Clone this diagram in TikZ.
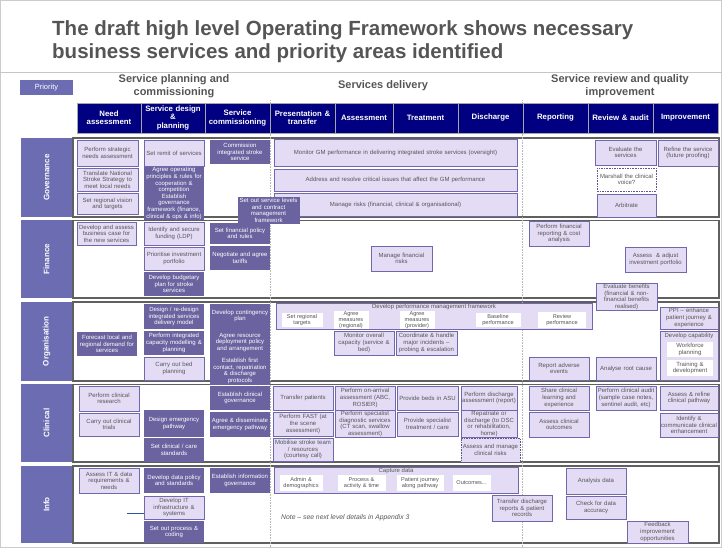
\documentclass[tikz,border=0pt]{standalone}
\usepackage{fontspec}
\setmainfont{Liberation Sans}
\usepackage{xcolor}
\usetikzlibrary{positioning, calc}

\definecolor{lav}{HTML}{E4DCF5}
\definecolor{lavline}{HTML}{7068AA}
\definecolor{plum}{HTML}{6A63A0}
\definecolor{navy}{HTML}{000080}
\definecolor{inkgray}{HTML}{555555}
\definecolor{framegray}{HTML}{606060}
\definecolor{prio}{HTML}{6C6CB2}
\definecolor{linkblue}{HTML}{2A55A5}

\begin{document}
\begin{tikzpicture}[
  x=1pt, y=-1pt,
  every node/.style={font=\fontsize{6}{6.6}\selectfont, inner sep=1pt, align=center},
  box/.style={text width=58, minimum height=24, line width=0.8pt},
  lt/.style={box, fill=lav, draw=lavline, text=inkgray},
  dk/.style={box, fill=plum, text=white},
  dsh/.style={box, draw=lavline!85!black, line width=0.9pt,
              dash pattern=on 1.6pt off 1pt, text=inkgray},
  wt/.style={fill=white, text=inkgray, inner sep=0.5pt, minimum height=14,
             font=\fontsize{5.6}{5.8}\selectfont},
  barlbl/.style={text=inkgray, inner sep=0.5pt},
  hdr/.style={fill=navy, draw=gray!70, line width=0.8pt, text=white, minimum height=30,
              font=\fontsize{7.8}{8.2}\selectfont\bfseries},
  grphd/.style={text=inkgray, font=\fontsize{11}{13.5}\selectfont\bfseries},
  rowlbl/.style={fill=prio, text=white, rotate=90, minimum height=51,
                 font=\fontsize{8}{9}\selectfont\bfseries},
  band/.style={draw=framegray, line width=1.3pt, fill=white},
  divider/.style={densely dotted, draw=gray!55, line width=0.6pt},
]
\useasboundingbox (0,0) rectangle (722,548);
\draw[gray!40, line width=0.6pt] (0.5,0.5) rectangle (721.5,547.5);

% --- column x-coordinates (box centres) ---
\def\xA{108}
\def\xB{174}
\def\xC{240}
\def\xD{303.5}
\def\xE{365}
\def\xF{427.5}
\def\xG{489}
\def\xH{559}
\def\xI{626}
\def\xJ{689}

% --- title ---
\node[anchor=north west, align=left, text=inkgray, inner sep=0pt,
      font=\fontsize{20.5}{23}\selectfont\bfseries] (title) at (52,20)
  {The draft high level Operating Framework shows necessary\\business services and priority areas identified};
\draw[gray!45, line width=1pt] (0,73) -- (722,73);

% --- group headings ---
\node[grphd, fill=white] (gplan) at (174,86) {Service planning and\\commissioning};
\node[grphd] (gdeliv) at (383,86) {Services delivery};
\node[grphd] (greview) at (620,86) {Service review and quality\\improvement};
\node[fill=prio, text=white, minimum width=53, minimum height=15,
      font=\fontsize{7.5}{8}\selectfont] (prio) at (46.5,87.5) {Priority};

% --- row bands ---
\draw[band] (73,138) rectangle (719,217);
\draw[band] (73,220.5) rectangle (719,298);
\draw[band] (73,302) rectangle (719,381);
\draw[band] (73,384.5) rectangle (719,462);
\draw[band] (73,466) rectangle (719,543);

% --- group dividers ---
\draw[divider] (270.5,100) -- (270.5,548);
\draw[divider] (522,100) -- (522,548);

% --- column headers ---
\node[hdr, text width=62] (hNeed) at (109,118) {Need\\assessment};
\node[hdr, text width=62] (hDes) at (173,118) {Service design\\\&\\planning};
\node[hdr, text width=63] (hCom) at (237.5,118) {Service\\commissioning};
\node[hdr, text width=63] (hPre) at (302.5,118) {Presentation \&\\transfer};
\node[hdr, text width=56] (hAss) at (364,118) {Assessment};
\node[hdr, text width=63] (hTre) at (425.5,118) {Treatment};
\node[hdr, text width=63] (hDis) at (490.5,118) {Discharge};
\node[hdr, text width=63] (hRep) at (555.5,118) {Reporting};
\node[hdr, text width=63] (hRev) at (620.5,118) {Review \& audit};
\node[hdr, text width=63] (hImp) at (685.5,118) {Improvement};

% --- row names ---
\node[rowlbl, minimum width=79] (lGov) at (46.5,177.5) {Governance};
\node[rowlbl, minimum width=78] (lFin) at (46.5,259) {Finance};
\node[rowlbl, minimum width=79] (lOrg) at (46.5,341.5) {Organisation};
\node[rowlbl, minimum width=78] (lCli) at (46.5,423) {Clinical};
\node[rowlbl, minimum width=77] (lInf) at (46.5,504.5) {Info};

% =========================================================
% Governance
% =========================================================
\node[lt, text width=59, minimum height=26] (gA1) at (107.5,153) {Perform strategic\\needs assessment};
\node[lt, text width=59, minimum height=23] (gA2) at (107.5,179.5) {Translate National\\Stroke Strategy to\\meet local needs};
\node[lt, text width=59, minimum height=21] (gA3) at (107.5,204) {Set regional vision\\and targets};
\node[lt, minimum height=26] (gB1) at (\xB,153) {Set remit of services};
\node[dk, minimum height=49] (gB2) at (\xB,193.5) {Agree operating\\principles \& rules for\\cooperation \&\\competition\\Establish\\governance\\framework (finance,\\clinical \& ops \& info)};
\node[dk] (gC1) at (\xC,152) {Commission\\integrated stroke\\service};
\node[lt, text width=241, minimum height=27] (gD1) at (395.5,152.5) {Monitor GM performance in delivering integrated stroke services (oversight)};
\node[lt, text width=241, minimum height=22] (gD2) at (395.5,180) {Address and resolve critical issues that affect the GM performance};
\node[lt, text width=241, minimum height=23] (gD3) at (395.5,204.5) {Manage risks (financial, clinical \& organisational)};
\node[dk, text width=60, minimum height=27] (gC2) at (268.5,210.5) {Set out service levels\\and contract\\management\\framework};
\node[lt, text width=59, minimum height=25] (gI1) at (625.5,152.5) {Evaluate the\\services};
\node[dsh, text width=57, minimum height=23] (gI2) at (626.5,179.5) {Marshall the clinical\\voice?};
\node[lt, text width=57, minimum height=23] (gI3) at (626.5,205.5) {Arbitrate};
\node[lt, minimum height=26] (gJ1) at (688,153) {Refine the service\\(future proofing)};

% =========================================================
% Finance
% =========================================================
\node[lt, text width=57, minimum height=23] (fA1) at (106.5,233.5) {Develop and assess\\business case for\\the new services};
\node[lt, minimum height=23] (fB1) at (\xB,233.5) {Identify and secure\\funding (LDP)};
\node[lt, minimum height=23] (fB2) at (\xB,258.5) {Prioritise investment\\portfolio};
\node[dk] (fB3) at (\xB,284) {Develop budgetary\\plan for stroke\\services};
\node[dk, minimum height=21] (fC1) at (\xC,233.5) {Set financial policy\\and rules};
\node[dk] (fC2) at (\xC,258) {Negotiate and agree\\tariffs};
\node[lt, text width=59, minimum height=25] (fF1) at (401.5,258.5) {Manage financial\\risks};
\node[lt, minimum height=25] (fH1) at (\xH,233.5) {Perform financial\\reporting \& cost\\analysis};
\node[lt, text width=59, minimum height=25] (fJ1) at (655.5,259.5) {Assess~~\& adjust\\investment portfolio};
\node[lt, text width=59, minimum height=20] (fI1) at (626.5,297) {Evaluate benefits\\(financial \& non-\\financial benefits\\realised)};

% =========================================================
% Organisation
% =========================================================
\node[dk] (oA1) at (107,344) {Forecast local and\\regional demand for\\services};
\node[dk, minimum height=25] (oB1) at (\xB,316.5) {Design / re-design\\integrated services\\delivery model};
\node[dk] (oB2) at (\xB,343) {Perform integrated\\capacity modelling \&\\planning};
\node[lt, minimum height=23] (oB3) at (\xB,368.5) {Carry out bed\\planning};
\node[dk] (oC1) at (\xC,316) {Develop contingency\\plan};
\node[dk, minimum height=29] (oC2) at (\xC,342.5) {Agree resource\\deployment policy\\and arrangement};
\node[dk] (oC3) at (\xC,371) {Establish first\\contact, repatriation\\\& discharge\\protocols};
% performance management framework bar
\node[lt, text width=314, minimum height=26] (pmf) at (434,316) {};
\node[barlbl, below=0.8pt of pmf.north] (pmfl) {Develop performance management framework};
\node[wt, text width=40] (wSet) at (302,320) {Set regional\\targets};
\node[wt, text width=34] (wReg) at (351,320) {Agree\\measures\\(regional)};
\node[wt, text width=34] (wPro) at (417,320) {Agree\\measures\\(provider)};
\node[wt, text width=44] (wBas) at (498,320) {Baseline\\performance};
\node[wt, text width=47, minimum height=16] (wRev) at (562,320) {Review\\performance};
\node[lt] (oE1) at (364,343) {Monitor overall\\capacity (service \&\\bed)};
\node[lt, text width=59] (oF1) at (426.5,343) {Coordinate \& handle\\major incidents --\\probing \& escalation};
\node[lt, minimum height=23] (oH1) at (\xH,368.5) {Report adverse\\events};
\node[lt, minimum height=23] (oI1) at (\xI,368.5) {Analyse root cause};
\node[lt, text width=56, minimum height=22] (oJ1) at (\xJ,318) {PPI -- enhance\\patient journey \&\\experience};
\node[lt, text width=56, minimum height=49] (oJ2) at (\xJ,355.5) {};
\node[barlbl, below=1.5pt of oJ2.north] (oJ2l) {Develop capability};
\node[wt, text width=45, minimum height=15, font=\fontsize{6}{6.3}\selectfont] (wWor) at (690,349.5) {Workforce\\planning};
\node[wt, text width=45, minimum height=16, font=\fontsize{6}{6.3}\selectfont] (wTra) at (690,368) {Training \&\\development};

% =========================================================
% Clinical
% =========================================================
\node[lt, minimum height=25] (cA1) at (109,398.5) {Perform clinical\\research};
\node[lt, minimum height=23] (cA2) at (109,424.5) {Carry out clinical\\trials};
\node[dk, minimum height=27] (cB1) at (\xB,423.5) {Design emergency\\pathway};
\node[dk] (cB2) at (\xB,450) {Set clinical / care\\standards};
\node[dk] (cC1) at (\xC,398) {Establish clinical\\governance};
\node[dk, minimum height=25] (cC2) at (\xC,424.5) {Agree \& disseminate\\emergency pathway};
\node[lt] (cD1) at (303,398) {Transfer patients};
\node[lt] (cD2) at (303,424) {Perform FAST (at\\the scene\\assessment)};
\node[lt, minimum height=23] (cD3) at (303,449.5) {Mobilise stroke team\\/ resources\\(courtesy call)};
\node[lt] (cE1) at (\xE,398) {Perform on-arrival\\assessment (ABC,\\ROSIER)};
\node[lt] (cE2) at (\xE,424) {Perform specialist\\diagnostic services\\(CT scan, swallow\\assessment)};
\node[lt, text width=59] (cF1) at (\xF,398) {Provide beds in ASU};
\node[lt, text width=59] (cF2) at (\xF,424) {Provide specialist\\treatment / care};
\node[lt, text width=54] (cG1) at (\xG,398) {Perform discharge\\assessment (report)};
\node[lt, text width=54] (cG2) at (\xG,424) {Repatriate or\\discharge (to DSC\\or rehabilitation,\\home)};
\node[dsh, fill=lav, text width=57] (cG3) at (490.5,450) {Assess and manage\\clinical risks};
\node[lt] (cH1) at (\xH,398) {Share clinical\\learning and\\experience};
\node[lt, minimum height=25] (cH2) at (\xH,424.5) {Assess clinical\\outcomes};
\node[lt] (cI1) at (\xI,398) {Perform clinical audit\\(sample case notes,\\sentinel audit, etc)};
\node[lt, text width=56] (cJ1) at (\xJ,398) {Assess \& refine\\clinical pathway};
\node[lt, text width=56] (cJ2) at (\xJ,425) {Identify \&\\communicate clinical\\enhancement};

% =========================================================
% Info
% =========================================================
\node[lt, minimum height=25] (iA1) at (109,480.5) {Assess IT \& data\\requirements \&\\needs};
\node[dk, minimum height=25] (iB1) at (\xB,480.5) {Develop data policy\\and standards};
\node[lt, minimum height=23] (iB2) at (\xB,507.5) {Develop IT\\infrastructure \&\\systems};
\node[dk, minimum height=22] (iB3) at (\xB,532) {Set out process \&\\coding};
\node[dk, minimum height=25] (iC1) at (\xC,480.5) {Establish information\\governance};
% capture data bar
\node[lt, text width=242, minimum height=26] (cap) at (396,480) {};
\node[barlbl, below=1pt of cap.north] (capl) {Capture data};
\node[wt, text width=42, minimum height=16] (wAdm) at (301,483) {Admin \&\\demographics};
\node[wt, text width=47, minimum height=16] (wPrc) at (361.5,483) {Process \&\\activity \& time};
\node[wt, text width=46, minimum height=16] (wPat) at (420,483) {Patient journey\\along pathway};
\node[wt, text width=37, minimum height=16] (wOut) at (471.5,483) {Outcomes...};
\node[lt, minimum height=26] (iG1) at (522,508) {Transfer discharge\\reports \& patient\\records};
\node[lt, minimum height=26] (iH1) at (596,481) {Analysis data};
\node[lt, minimum height=23] (iH2) at (596,507.5) {Check for data\\accuracy};
\node[lt, text width=59, minimum height=22] (iI1) at (657.5,532) {Feedback\\improvement\\opportunities};
\node[anchor=west, text=inkgray, font=\fontsize{6.8}{8}\selectfont\itshape] (note) at (280,518)
  {Note -- see next level details in Appendix 3};
\coordinate (itstub) at (127,513);
\draw[linkblue, line width=0.8pt] (itstub) -- (itstub -| iB2.west);

\end{tikzpicture}
\end{document}
